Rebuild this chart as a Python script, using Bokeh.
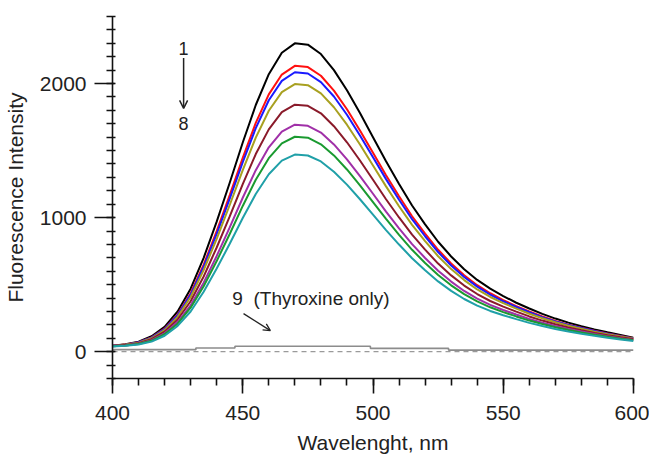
from bokeh.plotting import figure
from bokeh.models import SingleIntervalTicker, Arrow, OpenHead, Label
from bokeh.embed import file_html
from bokeh.resources import INLINE

wavelength = list(range(400, 605, 5))

curve1 = [45, 55, 75, 115, 185, 300, 470, 700, 970, 1260, 1560, 1840, 2070, 2230, 2300, 2290, 2220, 2100, 1950, 1780,
          1600, 1420, 1250, 1090, 950, 820, 710, 615, 535, 470, 415, 365, 322, 282, 247, 217, 190, 166, 145, 125, 105]
curve2 = [44, 53, 71, 107, 172, 278, 436, 649, 899, 1168, 1446, 1706, 1919, 2067, 2132, 2123, 2058, 1947, 1808, 1650,
          1483, 1316, 1159, 1010, 881, 760, 658, 570, 496, 436, 385, 340, 300, 263, 230, 202, 178, 156, 136, 118, 100]
curve3 = [44, 52, 70, 105, 168, 272, 426, 634, 879, 1142, 1413, 1667, 1875, 2020, 2084, 2075, 2011, 1903, 1767, 1613,
          1450, 1287, 1133, 988, 861, 743, 643, 557, 485, 426, 376, 333, 294, 258, 226, 199, 176, 154, 134, 116, 98]
curve4 = [43, 51, 67, 100, 161, 260, 408, 608, 842, 1094, 1354, 1597, 1797, 1936, 1996, 1988, 1927, 1823, 1693, 1545,
          1389, 1233, 1085, 946, 825, 712, 616, 534, 464, 408, 362, 321, 283, 249, 219, 193, 171, 149, 130, 113, 96]
curve5 = [42, 49, 63, 93, 149, 240, 376, 561, 777, 1009, 1250, 1474, 1658, 1786, 1842, 1834, 1778, 1682, 1562, 1426,
          1282, 1137, 1001, 873, 761, 657, 569, 493, 430, 378, 336, 299, 263, 232, 205, 181, 160, 140, 123, 107, 92]
curve6 = [41, 47, 59, 86, 137, 221, 346, 515, 714, 927, 1148, 1354, 1524, 1641, 1693, 1685, 1634, 1546, 1435, 1310,
          1178, 1045, 920, 802, 699, 604, 523, 453, 396, 349, 311, 277, 244, 216, 191, 169, 150, 132, 116, 101, 88]
curve7 = [40, 46, 57, 81, 130, 209, 328, 488, 676, 878, 1087, 1282, 1443, 1554, 1603, 1596, 1547, 1464, 1359, 1241,
          1115, 990, 871, 760, 662, 572, 495, 429, 375, 331, 295, 263, 232, 206, 182, 161, 143, 126, 111, 97, 85]
curve8 = [38, 44, 53, 75, 119, 192, 300, 447, 620, 805, 997, 1176, 1323, 1425, 1470, 1463, 1419, 1342, 1246, 1137,
          1022, 907, 799, 697, 607, 524, 454, 393, 344, 304, 272, 243, 215, 191, 169, 150, 133, 118, 104, 91, 80]

curves = [curve1, curve2, curve3, curve4, curve5, curve6, curve7, curve8]
colors = ["#000000", "#ff1010", "#1a1aff", "#a8a020", "#8a1a2a", "#a030a8", "#1a9a30", "#20a0a8"]

# series 9 (thyroxine only), stepwise trace
wl9 = [400, 432, 447, 499, 529, 600]
int9 = [15, 28, 40, 25, 12, 12]
baseline_x = [400, 600]
baseline_y = [0, 0]

FONT = "Liberation Sans"

p = figure(width=649, height=457, x_range=(400, 600), y_range=(-200, 2500),
           output_backend="svg", toolbar_location=None,
           min_border_left=112, min_border_right=16, min_border_top=16, min_border_bottom=79)
p.outline_line_color = None
p.xgrid.visible = False
p.ygrid.visible = False
p.background_fill_color = "white"
p.border_fill_color = "white"

p.xaxis.ticker = SingleIntervalTicker(interval=50, num_minor_ticks=5)
p.yaxis.ticker = SingleIntervalTicker(interval=1000, num_minor_ticks=10)

for ax in (p.xaxis, p.yaxis):
    ax.axis_line_width = 1.6
    ax.axis_line_color = "#111111"
    ax.major_tick_line_width = 1.6
    ax.minor_tick_line_width = 1.6
    ax.major_tick_line_color = "#111111"
    ax.minor_tick_line_color = "#111111"
    ax.major_label_text_font = FONT
    ax.major_label_text_font_size = "21px"
    ax.major_label_text_color = "#222222"
    ax.axis_label_text_font = FONT
    ax.axis_label_text_font_size = "21px"
    ax.axis_label_text_font_style = "normal"
    ax.axis_label_text_color = "#222222"

p.xaxis.major_tick_in = 0
p.xaxis.major_tick_out = 15
p.xaxis.minor_tick_in = 0
p.xaxis.minor_tick_out = 7
p.xaxis.major_label_standoff = 12
p.xaxis.axis_label = "Wavelenght, nm"
p.xaxis.axis_label_standoff = 8

p.yaxis.major_tick_in = 2
p.yaxis.major_tick_out = 18
p.yaxis.minor_tick_in = 3
p.yaxis.minor_tick_out = 6
p.yaxis.major_label_standoff = 8
p.yaxis.axis_label = "Fluorescence Intensity"
p.yaxis.axis_label_standoff = 10

# baseline and thyroxine-only trace
p.line(baseline_x, baseline_y, line_color="#9a9a9a", line_width=1.3, line_dash="5 4")
p.step(wl9, int9, mode="after", line_color="#8c8c8c", line_width=1.6)

for c, col in zip(curves, colors):
    p.line(wavelength, c, line_color=col, line_width=2)

# annotations
p.add_layout(Label(x=427.3, y=2265, text="1", text_align="center", text_baseline="middle",
                   text_font=FONT, text_font_size="18px", text_color="#222222"))
p.add_layout(Label(x=427.3, y=1705, text="8", text_align="center", text_baseline="middle",
                   text_font=FONT, text_font_size="18px", text_color="#222222"))
p.add_layout(Arrow(x_start=427.3, y_start=2190, x_end=427.3, y_end=1815,
                   line_color="#222222", line_width=1.5,
                   end=OpenHead(size=8, line_color="#222222", line_width=1.5)))

p.add_layout(Label(x=446, y=396, text="9\u00a0\u00a0(Thyroxine only)", text_align="left", text_baseline="middle",
                   text_font=FONT, text_font_size="19px", text_color="#222222"))
p.add_layout(Arrow(x_start=450.3, y_start=284, x_end=460.6, y_end=157,
                   line_color="#222222", line_width=1.3,
                   end=OpenHead(size=7, line_color="#222222", line_width=1.3)))

open("out.html", "w").write(file_html(p, INLINE))
